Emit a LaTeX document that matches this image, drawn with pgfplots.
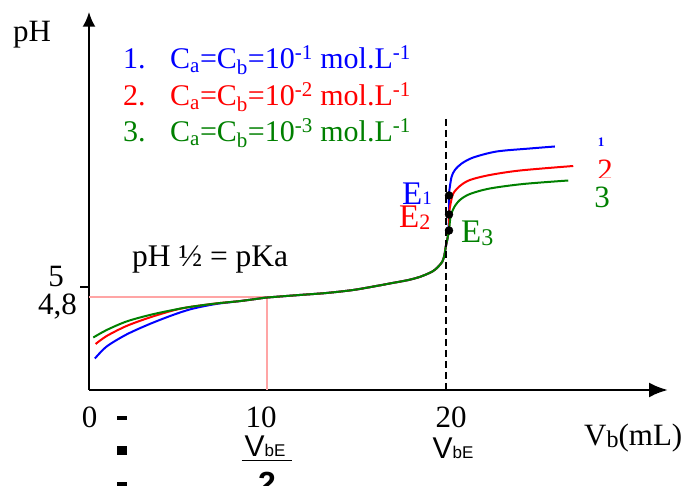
\documentclass[border=0pt]{standalone}
\usepackage{fontspec}
\setmainfont{Liberation Serif}
\setsansfont{Liberation Sans}
\usepackage{pgfplots}
\pgfplotsset{compat=1.18}
\usetikzlibrary{arrows.meta}
\definecolor{cblue}{RGB}{0,0,255}
\definecolor{cred}{RGB}{255,0,0}
\definecolor{cgreen}{RGB}{0,128,0}
\definecolor{cpink}{RGB}{255,165,165}
\newcommand{\fz}[1]{\fontsize{#1}{#1}\selectfont}
\begin{document}
\begin{tikzpicture}[x=1pt,y=1pt]
\begin{axis}[
 at={(89pt,96pt)}, anchor=south west,
 scale only axis, width=579pt, height=378.3pt,
 xmin=0, xmax=32.44, ymin=2.94, ymax=10.506,
 axis lines=left,
 axis line style={line width=2.7pt},
 x axis line style={-{Latex[length=19pt,width=15pt]}},
 y axis line style={-{Latex[length=15pt,width=13pt]}},
 xtick=\empty, ytick={5}, yticklabels={},
 tick style={line width=1.5pt, black}, major tick length=9pt, tick align=outside,
 clip=false,
]
\addplot[cpink, line width=2pt] coordinates {(0,4.8)(10,4.8)(10,2.94)};
\addplot[cblue, line width=2pt, smooth, tension=0.5] coordinates {
(0.33,3.57)(0.99,3.81)(2.1,4.05)(3.4,4.26)(4.7,4.44)(5.64,4.55)(6.5,4.62)(7.3,4.67)(8.5,4.72)(9.55,4.77)(10,4.79)(11.8,4.84)(13.3,4.88)(14.8,4.94)(16.1,5.02)(17.0,5.08)(17.9,5.14)(18.6,5.21)(19.24,5.31)(19.55,5.40)(19.8,5.51)(19.92,5.65)(19.99,5.81)(20.1,6.0)(20.17,6.4)(20.17,6.83)
(20.22,7.01)(20.32,7.21)(20.5,7.34)(20.88,7.47)(21.53,7.59)(22.84,7.71)(24.7,7.77)(26.1,7.81)};
\addplot[cred, line width=2pt, smooth, tension=0.5] coordinates {
(0.37,3.86)(0.99,4.02)(2.1,4.22)(3.4,4.39)(4.7,4.53)(5.64,4.60)(7.1,4.67)(8.5,4.72)(9.55,4.77)(10,4.79)(11.8,4.84)(13.3,4.88)(14.8,4.94)(16.1,5.02)(17.0,5.08)(17.9,5.14)(18.6,5.21)(19.24,5.31)(19.55,5.40)(19.8,5.51)(19.92,5.65)(19.99,5.81)(20.1,6.0)(20.17,6.2)(20.17,6.45)
(20.26,6.67)(20.41,6.87)(20.78,7.02)(21.34,7.14)(22.46,7.24)(24.15,7.33)(27.13,7.42)};
\addplot[cgreen, line width=2pt, smooth, tension=0.5] coordinates {
(0.24,3.99)(0.99,4.14)(2.1,4.31)(3.4,4.44)(4.7,4.54)(5.64,4.60)(7.1,4.67)(8.5,4.72)(9.55,4.77)(10,4.79)(11.8,4.84)(13.3,4.88)(14.8,4.94)(16.1,5.02)(17.0,5.08)(17.9,5.14)(18.6,5.21)(19.24,5.31)(19.55,5.40)(19.8,5.51)(19.92,5.65)(19.99,5.81)(20.1,6.0)(20.17,6.13)
(20.26,6.41)(20.45,6.59)(20.78,6.74)(21.34,6.86)(22.46,6.97)(24.33,7.06)(26.85,7.13)};
\addplot[black, line width=2pt, dash pattern=on 7pt off 4pt] coordinates {(20,8.36)(20,2.94)};
\addplot[only marks, mark=*, mark size=4pt, black] coordinates {(20.17,6.83)(20.17,6.45)(20.17,6.13)};
\end{axis}
% texts
\node[anchor=base west, inner sep=0, font=\fz{31}] at (13,444) {pH};
\node[anchor=base west, inner sep=0, text=cblue, font=\fz{30}] at (123,417) {1.};
\node[anchor=base west, inner sep=0, text=cblue, font=\fz{30}] at (170,417) {C\textsubscript{a}=C\textsubscript{b}=10\textsuperscript{-1} mol.L\textsuperscript{-1}};
\node[anchor=base west, inner sep=0, text=cred, font=\fz{30}] at (123,380.5) {2.};
\node[anchor=base west, inner sep=0, text=cred, font=\fz{30}] at (170,380.5) {C\textsubscript{a}=C\textsubscript{b}=10\textsuperscript{-2} mol.L\textsuperscript{-1}};
\node[anchor=base west, inner sep=0, text=cgreen, font=\fz{30}] at (123,344) {3.};
\node[anchor=base west, inner sep=0, text=cgreen, font=\fz{30}] at (170,344) {C\textsubscript{a}=C\textsubscript{b}=10\textsuperscript{-3} mol.L\textsuperscript{-1}};
\node[anchor=base west, inner sep=0, font=\fz{31.5}] at (132,219) {pH ½ = pKa};
\node[anchor=base east, inner sep=0, font=\fz{31}] at (64,199) {5};
\node[anchor=base east, inner sep=0, font=\fz{31}] at (77,171) {4,8};
\node[anchor=base, inner sep=0, font=\fz{31}] at (89.5,58) {0};
\node[anchor=base, inner sep=0, font=\fz{31}] at (261,58) {10};
\node[anchor=base, inner sep=0, font=\fz{31}] at (451,58) {20};
\node[anchor=base, inner sep=0, font=\sffamily\fz{30}] at (265,29.3) {V{\fz{17}bE}};
\draw[line width=1.3pt] (241.7,25.3) -- (291.7,25.3);
\node[anchor=north, inner sep=0, font=\sffamily\bfseries\fz{32}] at (267,14.3) {2};
\node[anchor=base, inner sep=0, font=\sffamily\fz{30}] at (453,27.7) {V{\fz{17}bE}};
\node[anchor=base west, inner sep=0, font=\fz{31}] at (584,40) {V\raisebox{-2pt}{\fz{24}b}(mL)};
\fill (117,66) rectangle (127,69.5);
\fill (117,31) rectangle (127,40);
\fill (117,0) rectangle (127,4);
\node[anchor=base west, inner sep=0, text=cblue, font=\fz{33}] at (402,281) {E{\fz{19}1}};
\node[anchor=base west, inner sep=0, text=cred, font=\fz{33}] at (399,258) {E\raisebox{-2pt}{\fz{22}2}};
\node[anchor=base west, inner sep=0, text=cgreen, font=\fz{33}] at (461,243) {E\raisebox{-3pt}{\fz{24}3}};
\node[anchor=base, inner sep=0, text=cgreen, font=\fz{31}] at (602,278) {3};
\begin{scope}
\clip (580,308) rectangle (630,340);
\node[anchor=base, inner sep=0, text=cred, font=\fz{31}] at (605,305) {2};
\end{scope}
\node[anchor=base, inner sep=0, text=cblue, font=\bfseries\fz{13}] at (601,339) {1};
\pgfresetboundingbox
\path[use as bounding box] (0,0) rectangle (682,486);
\end{tikzpicture}
\end{document}
